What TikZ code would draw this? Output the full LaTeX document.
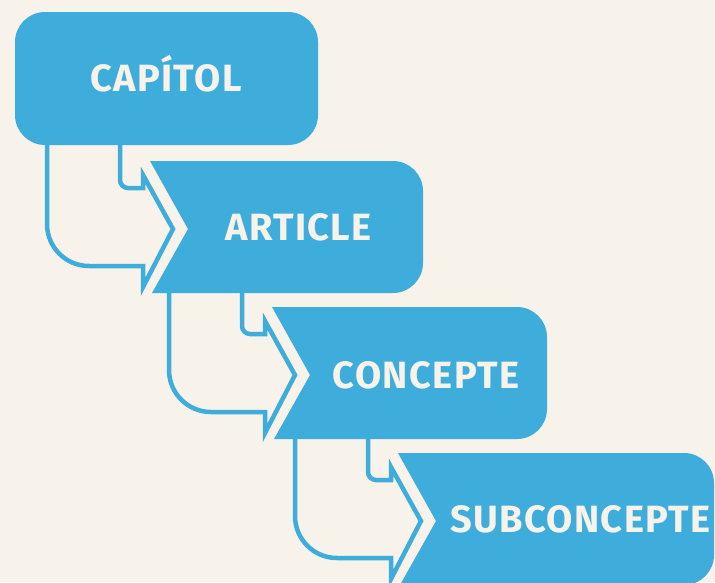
\documentclass[tikz,border=0pt]{standalone}
\usepackage{fontspec}
\setmainfont{Fira Sans}
\usetikzlibrary{calc}

\definecolor{fons}{HTML}{F7F3EA}
\definecolor{blau}{HTML}{3FADDB}

\tikzset{
  caixa/.style={fill=blau},
  unio/.style={draw=blau,line width=4.5pt},
  etiqueta/.style={text=fons,font=\fontsize{38}{38}\selectfont\bfseries\addfontfeature{LetterSpace=3.5},inner sep=0pt,anchor=base}
}

\begin{document}
\begin{tikzpicture}[x=1pt,y=1pt]

        \fill[fons] (0,0) rectangle (715,-582);
        \useasboundingbox (0,0) rectangle (715,-582);

        % top left corner of each box
        \coordinate (c1) at (15,-12);
        \coordinate (c2) at (150,-161);
        \coordinate (c3) at (272,-307);
        \coordinate (c4) at (398,-453);

        % unions between levels
        \draw[unio,shift={(c2)}] (-30,17) -- (-30,-19) arc[start angle=180,end angle=270,radius=8pt]
          -- (-7,-27) -- (-7,-14) -- (23,-68) -- (-7,-126) -- (-7,-105) -- (-61,-105)
          arc[start angle=270,end angle=180,radius=42pt] -- (-103,17);
        \draw[unio,shift={(c3)}] (-30,17) -- (-30,-19) arc[start angle=180,end angle=270,radius=8pt]
          -- (-7,-27) -- (-7,-14) -- (23,-68) -- (-7,-126) -- (-7,-105) -- (-61,-105)
          arc[start angle=270,end angle=180,radius=42pt] -- (-103,17);
        \draw[unio,shift={(c4)}] (-30,17) -- (-30,-19) arc[start angle=180,end angle=270,radius=8pt]
          -- (-7,-27) -- (-7,-14) -- (23,-68) -- (-7,-126) -- (-7,-105) -- (-61,-105)
          arc[start angle=270,end angle=180,radius=42pt] -- (-103,17);

        % boxes
        \fill[caixa,rounded corners=30pt] (c1) rectangle (318,-145);

        \fill[caixa] (c2) -- ++(38,-68) -- ++(-36,-64) -- (393,-293)
          arc[start angle=270,end angle=360,radius=30pt] -- (423,-191)
          arc[start angle=0,end angle=90,radius=30pt] -- cycle;

        \fill[caixa] (c3) -- ++(38,-68) -- ++(-36,-64) -- (517,-439)
          arc[start angle=270,end angle=360,radius=30pt] -- (547,-337)
          arc[start angle=0,end angle=90,radius=30pt] -- cycle;

        \fill[caixa] (c4) -- ++(38,-68) -- ++(-36,-64) -- (684,-585)
          arc[start angle=270,end angle=360,radius=30pt] -- (714,-483)
          arc[start angle=0,end angle=90,radius=30pt] -- cycle;

        \begin{scope}[every node/.style={etiqueta}]
          \node (capitol)     at (166,-91)    {CAPÍTOL};
          \node (article)     at (298.5,-240) {ARTICLE};
          \node (concepte)    at (426,-388)   {CONCEPTE};
          \node (subconcepte) at (580.5,-532) {SUBCONCEPTE};
        \end{scope}

\end{tikzpicture}
\end{document}
